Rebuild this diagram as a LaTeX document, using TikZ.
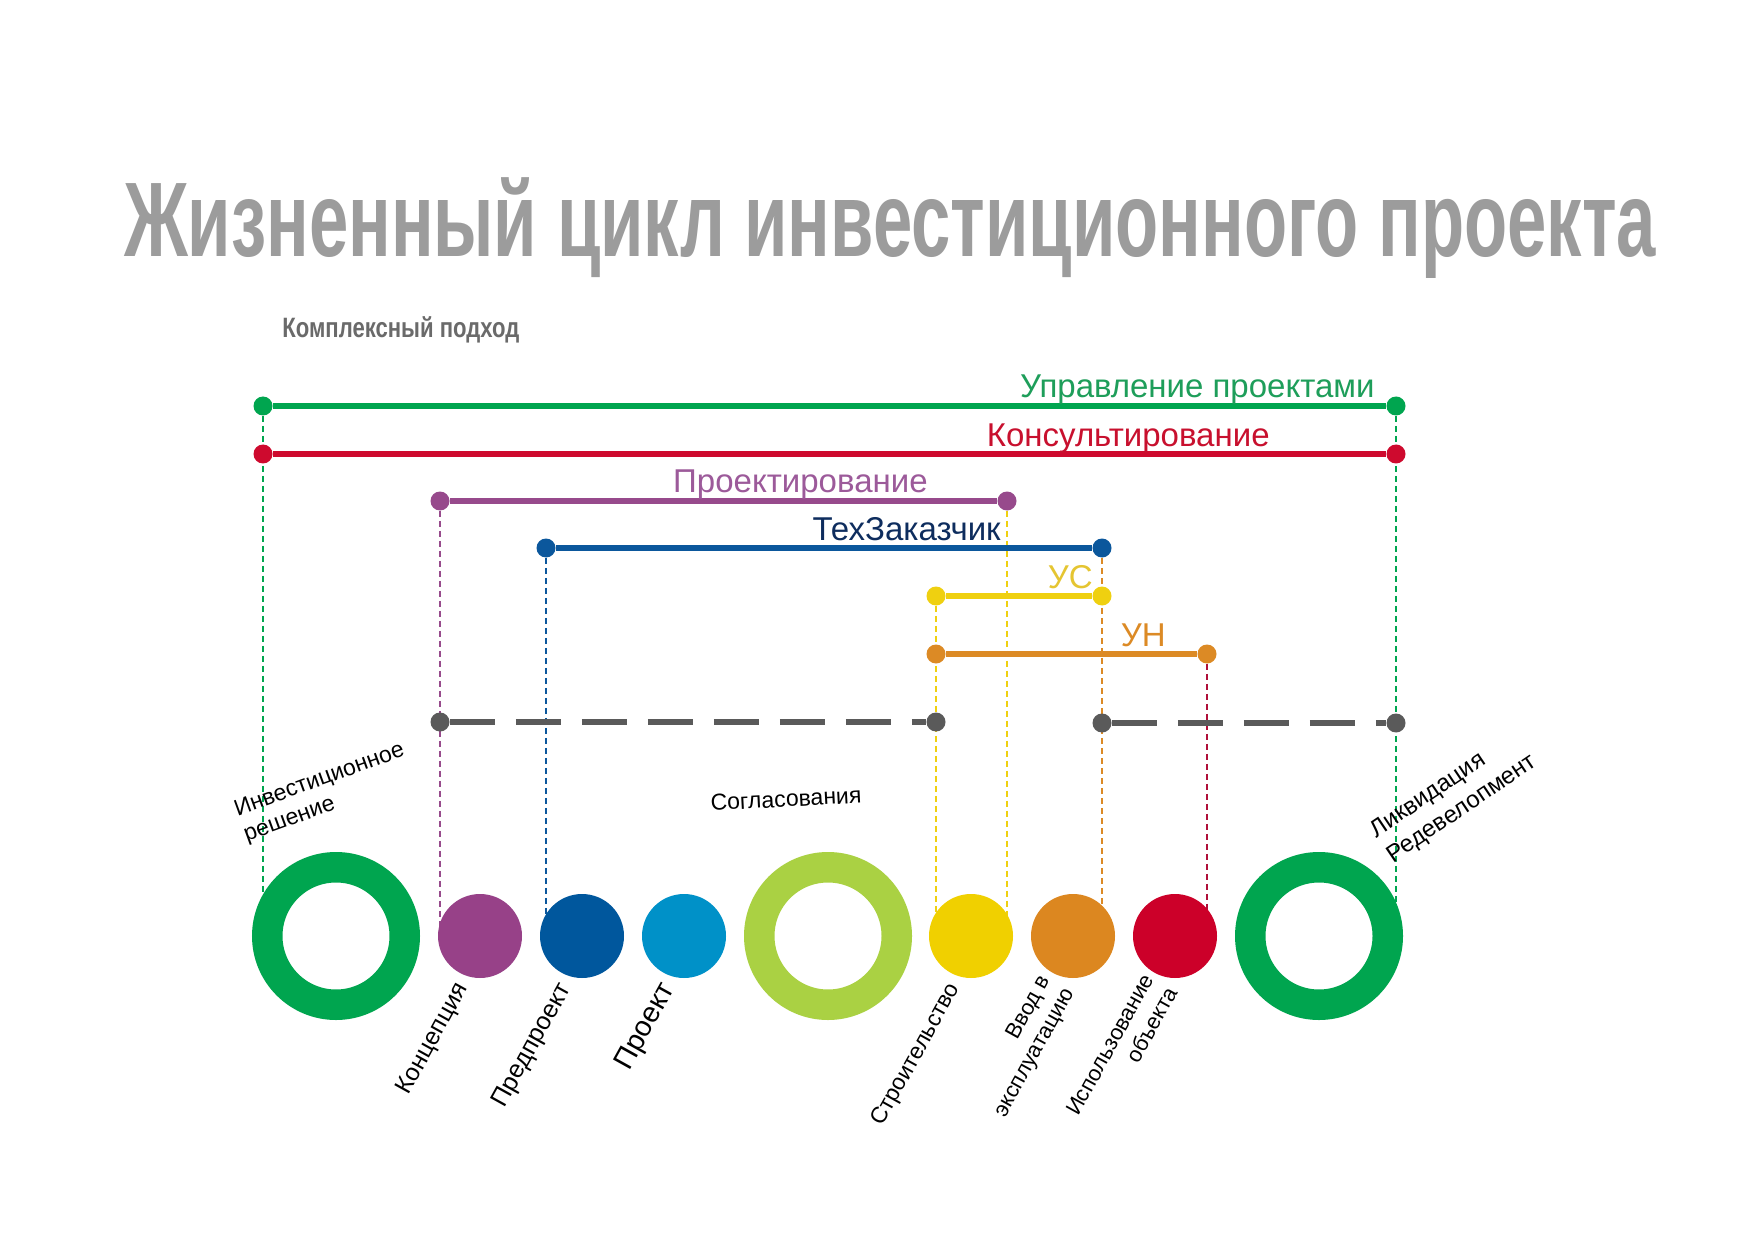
\documentclass[tikz,border=0pt]{standalone}
\usepackage{graphicx}
\usepackage{fontspec}
\setmainfont{Liberation Sans}
\definecolor{cgreen}{HTML}{00A54F}
\definecolor{cgreentxt}{HTML}{1E9E5A}
\definecolor{cred}{HTML}{CE0A2E}
\definecolor{credtxt}{HTML}{C8102E}
\definecolor{cpurple}{HTML}{974A8C}
\definecolor{cpurpletxt}{HTML}{9C5A9A}
\definecolor{cblue}{HTML}{0B579C}
\definecolor{cyellow}{HTML}{EFD010}
\definecolor{cyellowtxt}{HTML}{E5C531}
\definecolor{corange}{HTML}{DC8A25}
\definecolor{cgray}{HTML}{5A5A5A}
\definecolor{clime}{HTML}{AAD143}
\definecolor{ccyan}{HTML}{0091C8}
\definecolor{cnavy}{HTML}{0E2D5E}
\definecolor{ctitle}{HTML}{9C9C9C}
\definecolor{csub}{HTML}{6A6A6A}
\definecolor{ccrimson}{HTML}{B0103A}
\definecolor{cdisc}{HTML}{974188}
\definecolor{cdblue}{HTML}{00579D}
\definecolor{cdred}{HTML}{CC0029}
\definecolor{cdorange}{HTML}{DC8720}
\definecolor{cdyellow}{HTML}{F0D000}
\pgfdeclarelayer{bg}
\pgfsetlayers{bg,main}
\begin{document}
\begin{tikzpicture}[x=0.5pt,y=-0.5pt,
  dot/.style={circle,inner sep=0pt,minimum size=9.5pt},
  bar/.style={line width=2.8pt},
  vline/.style={line width=0.6pt,dash pattern=on 3pt off 2pt},
  gbar/.style={line width=3.4pt,draw=cgray,dash pattern=on 22.5pt off 10.5pt},
  ring/.style={circle,draw,fill=white,line width=15.25pt,minimum size=68.75pt,inner sep=0pt},
  disc/.style={circle,minimum size=42pt,inner sep=0pt},
  barlab/.style={anchor=base east,inner sep=0pt,font=\fontsize{16.5}{18}\selectfont},
  stage/.style={anchor=east,inner sep=0pt,rotate=61,align=right,font=\fontsize{11}{13.5}\selectfont},
  side/.style={anchor=west,inner sep=0pt,align=left,font=\fontsize{11.5}{13.5}\selectfont}
]
\begin{pgfonlayer}{bg}
\fill[white] (0,0) rectangle (1754,1240);
\end{pgfonlayer}
\useasboundingbox (0,0) rectangle (1754,1240);

% title
\node[anchor=base,inner sep=0pt,text=ctitle] (title) at (890,257)
  {\resizebox{766pt}{\height}{\fontsize{53}{60}\selectfont\bfseries Жизненный цикл инвестиционного проекта}};
\node[anchor=base west,inner sep=0pt,text=csub] (sub) at (282,338)
  {\resizebox{118.5pt}{\height}{\fontsize{14}{16}\selectfont\bfseries Комплексный подход}};

% circles
\node[ring,draw=cgreen] (ring1) at (336,936) {};
\node[disc,fill=cdisc] (c1) at (480,936) {};
\node[disc,fill=cdblue] (c2) at (582,936) {};
\node[disc,fill=ccyan] (c3) at (684,936) {};
\node[ring,draw=clime] (ring2) at (828,936) {};
\node[disc,fill=cdyellow] (c4) at (971,936) {};
\node[disc,fill=cdorange] (c5) at (1073,936) {};
\node[disc,fill=cdred] (c6) at (1175,936) {};
\node[ring,draw=cgreen] (ring3) at (1319,936) {};

% dots
\node[dot,fill=cgreen] (g1) at (263,406) {};
\node[dot,fill=cgreen] (g2) at (1396,406) {};
\node[dot,fill=cred] (r1) at (263,454) {};
\node[dot,fill=cred] (r2) at (1396,454) {};
\node[dot,fill=cpurple] (p1) at (440,501) {};
\node[dot,fill=cpurple] (p2) at (1007,501) {};
\node[dot,fill=cblue] (b1) at (546,548) {};
\node[dot,fill=cblue] (b2) at (1102,548) {};
\node[dot,fill=cyellow] (y1) at (936,596) {};
\node[dot,fill=cyellow] (y2) at (1102,596) {};
\node[dot,fill=corange] (o1) at (936,654) {};
\node[dot,fill=corange] (o2) at (1207,654) {};
\node[dot,fill=cgray] (d1) at (440,722) {};
\node[dot,fill=cgray] (d2) at (936,722) {};
\node[dot,fill=cgray] (d3) at (1102,723) {};
\node[dot,fill=cgray] (d4) at (1396,723) {};

% bars
\draw[bar,cgreen] (g1) -- (g2);
\draw[bar,cred] (r1) -- (r2);
\draw[bar,cpurple] (p1) -- (p2);
\draw[bar,cblue] (b1) -- (b2);
\draw[bar,cyellow] (y1) -- (y2);
\draw[bar,corange] (o1) -- (o2);
\draw[gbar] (d1) -- (d2);
\draw[gbar] (d3) -- (d4);

% vertical dashed lines
\begin{pgfonlayer}{bg}
\draw[vline,cgreen] (g1) -- (g1 |- ring1.center);
\draw[vline,cpurple] (p1) -- (p1 |- c1.center);
\draw[vline,cblue] (b1) -- (b1 |- c2.center);
\draw[vline,cyellow] (y1) -- (y1 |- c4.center);
\draw[vline,cyellow] (p2) -- (p2 |- c4.center);
\draw[vline,corange] (b2) -- (b2 |- c5.center);
\draw[vline,ccrimson] (o2) -- (o2 |- c6.center);
\draw[vline,cgreen] (g2) -- (g2 |- ring3.center);
\end{pgfonlayer}

% bar labels
\node[barlab,text=cgreentxt] (lpm) at (1375,398) {Управление проектами};
\node[barlab,text=credtxt] (lcons) at (1270,446) {Консультирование};
\node[barlab,text=cpurpletxt] (lproj) at (928,493) {Проектирование};
\node[barlab,text=cnavy] (ltz) at (1001,540) {ТехЗаказчик};
\node[barlab,text=cyellowtxt] (lus) at (1093,588) {УС};
\node[barlab,text=corange] (lun) at (1166,646) {УН};

% stage labels
\node[stage,font=\fontsize{12.2}{14}\selectfont] (lk) at (463,985) {Концепция};
\node[stage,font=\fontsize{12.5}{14}\selectfont] (lpp) at (566,985) {Предпроект};
\node[stage,font=\fontsize{14.3}{16}\selectfont] (lpr) at (669,985) {Проект};
\node[stage,font=\fontsize{11.4}{13.5}\selectfont] (lst) at (955,985) {Строительство};
\node[stage] (lvv) at (1058,984) {Ввод в\\эксплуатацию};
\node[stage] (lis) at (1160,982) {Использование\\объекта};

\node[side,rotate=20] (linv) at (240,824) {Инвестиционное\\решение};
\node[side,rotate=34,font=\fontsize{12}{15}\selectfont] (lliq) at (1381,846) {Ликвидация\\Редевелопмент};
\node[rotate=3,inner sep=0pt,font=\fontsize{11.5}{13.5}\selectfont] (lsogl) at (786,799) {Согласования};
\end{tikzpicture}
\end{document}
